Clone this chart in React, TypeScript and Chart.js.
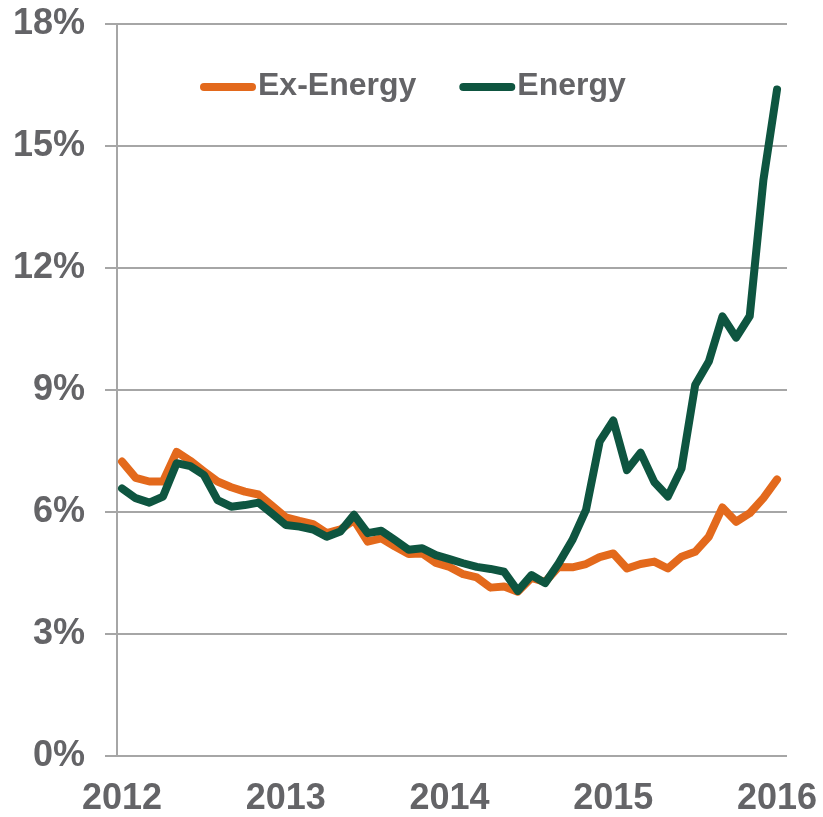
import React, { useEffect, useRef } from 'react';
import { Chart, registerables } from 'chart.js';

Chart.register(...registerables);

const yearLabels = ['2012', '2013', '2014', '2015', '2016'];
const seriesNames = ['Ex-Energy', 'Energy'];
const seriesColors = ['#E3691C', '#0E5540'];

// Monthly values, Jan 2012 .. Jan 2016 (%)
const exEnergyValues = [
  7.24, 6.84, 6.75, 6.75, 7.48, 7.26, 7.0, 6.75, 6.61, 6.5, 6.43, 6.15,
  5.87, 5.78, 5.7, 5.48, 5.57, 5.8, 5.27, 5.35, 5.15, 4.97, 4.98, 4.75,
  4.65, 4.47, 4.39, 4.14, 4.17, 4.04, 4.38, 4.28, 4.65, 4.64, 4.72, 4.89,
  4.98, 4.61, 4.72, 4.78, 4.61, 4.9, 5.02, 5.39, 6.11, 5.76, 5.97, 6.34,
  6.8,
];
const energyValues = [
  6.58, 6.34, 6.23, 6.38, 7.2, 7.13, 6.91, 6.29, 6.13, 6.17, 6.23, 5.96,
  5.68, 5.64, 5.57, 5.39, 5.52, 5.93, 5.48, 5.54, 5.31, 5.07, 5.11, 4.94,
  4.84, 4.74, 4.65, 4.6, 4.53, 4.06, 4.45, 4.25, 4.74, 5.31, 6.05, 7.73,
  8.25, 7.03, 7.46, 6.74, 6.38, 7.07, 9.12, 9.7, 10.81, 10.29, 10.82, 14.16,
  16.39,
];
const yMin = 0;
const yMax = 18;
const yStep = 3;

const FONT = '"Liberation Sans", Arial, Helvetica, sans-serif';
const TEXT_COLOR = '#646467';
const GRID_COLOR = '#a6a6a6';
const LINE_WIDTH = 8;

export default function App() {
  const ref = useRef<HTMLCanvasElement>(null);

  useEffect(() => {
    document.body.style.margin = '0';
    const canvas = ref.current;
    if (!canvas) return;

    const legendPlugin = {
      id: 'inlineLegend',
      afterDatasetsDraw(chart: any) {
        const { ctx, chartArea } = chart;
        ctx.save();
        ctx.font = `bold 32px ${FONT}`;
        ctx.textBaseline = 'middle';
        ctx.textAlign = 'left';
        let x = chartArea.left + 83;
        const y = chartArea.top + 62;
        chart.data.datasets.forEach((ds: any) => {
          ctx.strokeStyle = ds.borderColor;
          ctx.lineWidth = LINE_WIDTH;
          ctx.lineCap = 'round';
          ctx.beginPath();
          ctx.moveTo(x + 4, y + 1);
          ctx.lineTo(x + 52, y + 1);
          ctx.stroke();
          ctx.fillStyle = TEXT_COLOR;
          ctx.fillText(ds.label, x + 58, y);
          x += 58 + ctx.measureText(ds.label).width + 43;
        });
        ctx.restore();
      },
    };

    const toPoints = (vals: number[]) => vals.map((v, i) => ({ x: i, y: v }));

    const chart = new Chart(canvas, {
      type: 'line',
      data: {
        datasets: [
          {
            label: seriesNames[0],
            data: toPoints(exEnergyValues),
            borderColor: seriesColors[0],
            backgroundColor: seriesColors[0],
            borderWidth: LINE_WIDTH,
            pointRadius: 0,
            borderJoinStyle: 'round',
            borderCapStyle: 'round',
            tension: 0,
            order: 1,
          },
          {
            label: seriesNames[1],
            data: toPoints(energyValues),
            borderColor: seriesColors[1],
            backgroundColor: seriesColors[1],
            borderWidth: LINE_WIDTH,
            pointRadius: 0,
            borderJoinStyle: 'round',
            borderCapStyle: 'round',
            tension: 0,
            order: 0,
          },
        ],
      },
      options: {
        responsive: false,
        animation: false,
        layout: { padding: { top: 24, right: 36, left: 0, bottom: 0 } },
        plugins: {
          legend: { display: false },
          tooltip: { enabled: false },
        },
        scales: {
          x: {
            type: 'linear',
            min: -0.37,
            max: 48.73,
            grid: { display: false, drawTicks: false },
            border: { display: false },
            afterBuildTicks: (s: any) => {
              s.ticks = yearLabels.map((_, i) => ({ value: i * 12 }));
            },
            afterFit: (s: any) => {
              s.height = 61;
              s.paddingLeft = 0;
              s.paddingRight = 0;
            },
            ticks: {
              autoSkip: false,
              maxRotation: 0,
              minRotation: 0,
              padding: 21,
              color: TEXT_COLOR,
              font: { family: FONT, size: 36, weight: 'bold' },
              callback: (_v: any, i: number) => yearLabels[i],
            },
          },
          y: {
            min: yMin,
            max: yMax,
            grid: { color: GRID_COLOR, lineWidth: 2, drawTicks: true, tickLength: 12 },
            border: { display: true, color: GRID_COLOR, width: 2 },
            afterFit: (s: any) => {
              s.width = 117;
              s.paddingTop = 0;
              s.paddingBottom = 0;
            },
            ticks: {
              stepSize: yStep,
              padding: 20,
              color: TEXT_COLOR,
              font: { family: FONT, size: 36, weight: 'bold' },
              callback: (v: any) => `${v}%`,
            },
          },
        },
      } as any,
      plugins: [legendPlugin],
    });

    return () => chart.destroy();
  }, []);

  return (
    <div style={{ position: 'absolute', left: 0, top: 0, width: 823, height: 817, background: '#fff' }}>
      <canvas ref={ref} width={823} height={817} style={{ display: 'block' }} />
    </div>
  );
}
